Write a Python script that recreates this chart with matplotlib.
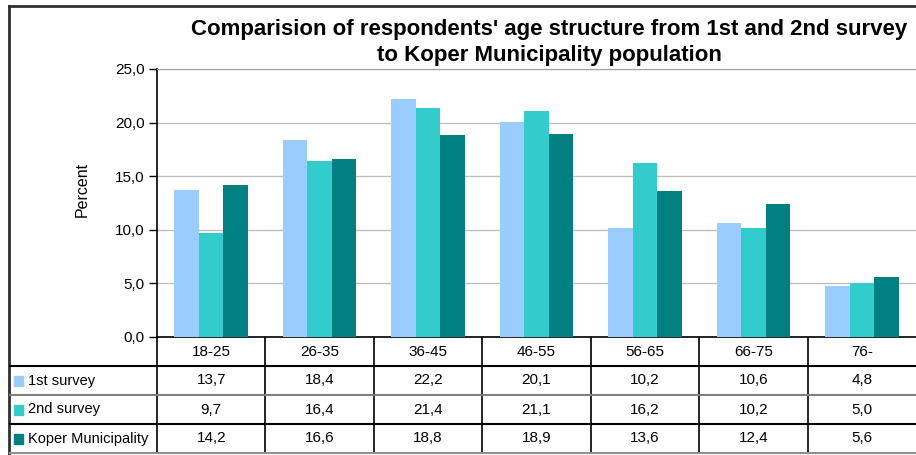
import numpy as np
import matplotlib
matplotlib.use('Agg')
import matplotlib.pyplot as plt

plt.rcParams['font.family'] = ['Liberation Sans', 'DejaVu Sans']

# data
age_groups = ['18-25', '26-35', '36-45', '46-55', '56-65', '66-75', '76-']
series_names = ['1st survey', '2nd survey', 'Koper Municipality']
first_survey = [13.7, 18.4, 22.2, 20.1, 10.2, 10.6, 4.8]
second_survey = [9.7, 16.4, 21.4, 21.1, 16.2, 10.2, 5.0]
koper = [14.2, 16.6, 18.8, 18.9, 13.6, 12.4, 5.6]
colors = ['#99CCFF', '#33CCCC', '#008080']

W, H = 916, 455
fig = plt.figure(figsize=(W / 100, H / 100), dpi=100)

# pixel layout
left, right, top, bottom = 157, 916, 69, 337
row_h = 29

ax = fig.add_axes([left / W, 1 - bottom / H, (right - left) / W, (bottom - top) / H])
x = np.arange(len(age_groups))
bw = 0.226
for k, vals in enumerate([first_survey, second_survey, koper]):
    ax.bar(x + (k - 1) * bw, vals, width=bw, color=colors[k], zorder=3)

ax.set_xlim(-0.5, len(age_groups) - 0.5)
ax.set_ylim(0, 25)
ax.set_yticks(np.arange(0, 26, 5))
ax.set_yticklabels([f'{v:.1f}'.replace('.', ',') for v in np.arange(0, 26, 5)], fontsize=11)
ax.set_xticks([])
ax.yaxis.grid(True, color='#C0C0C0', linewidth=1)
ax.tick_params(axis='y', length=6, width=1, pad=3, colors='black')
ax.spines['right'].set_visible(False)
ax.spines['top'].set_color('#A0A0A0')
ax.spines['left'].set_linewidth(1.2)
ax.spines['bottom'].set_linewidth(1.2)
ax.set_ylabel('Percent', fontsize=11.5)
ax.yaxis.set_label_coords(-0.089, 0.549)

# overlay in pixel coordinates for the title, border and data table
ov = fig.add_axes([0, 0, 1, 1], zorder=-1)
ov.set_xlim(0, W)
ov.set_ylim(H, 0)
ov.axis('off')

ov.plot([9, 9], [6, H], color='#303030', linewidth=2)
ov.plot([9, W], [6, 6], color='#303030', linewidth=2)

ov.text(549, 29, "Comparision of respondents' age structure from 1st and 2nd survey",
        ha='center', va='center', fontsize=16, fontweight='bold')
ov.text(549, 56, 'to Koper Municipality population',
        ha='center', va='center', fontsize=16, fontweight='bold')

colw = (right - left) / len(age_groups)
tbl_bottom = bottom + 4 * row_h
# vertical lines of the table
ov.plot([left, left], [bottom, tbl_bottom], color='black', linewidth=1.2)
for i in range(1, len(age_groups)):
    xc = left + i * colw
    ov.plot([xc, xc], [bottom, tbl_bottom], color='black', linewidth=1.2)
# horizontal lines
for r, c in zip(range(1, 5), ['black', '#808080', 'black', '#909090']):
    yl = bottom + r * row_h
    ov.plot([10, W], [yl, yl], color=c, linewidth=1.5)

for i, g in enumerate(age_groups):
    ov.text(left + (i + 0.5) * colw, bottom + row_h / 2, g,
            ha='center', va='center', fontsize=11)

for r, (name, vals) in enumerate(zip(series_names, [first_survey, second_survey, koper])):
    yc = bottom + (r + 1.5) * row_h
    ov.add_patch(plt.Rectangle((14, yc - 5), 9, 10, color=colors[r]))
    ov.text(28, yc, name, ha='left', va='center', fontsize=10.5)
    for i, v in enumerate(vals):
        ov.text(left + (i + 0.5) * colw, yc, f'{v:.1f}'.replace('.', ','),
                ha='center', va='center', fontsize=11)

fig.savefig('out.png', dpi=100)
